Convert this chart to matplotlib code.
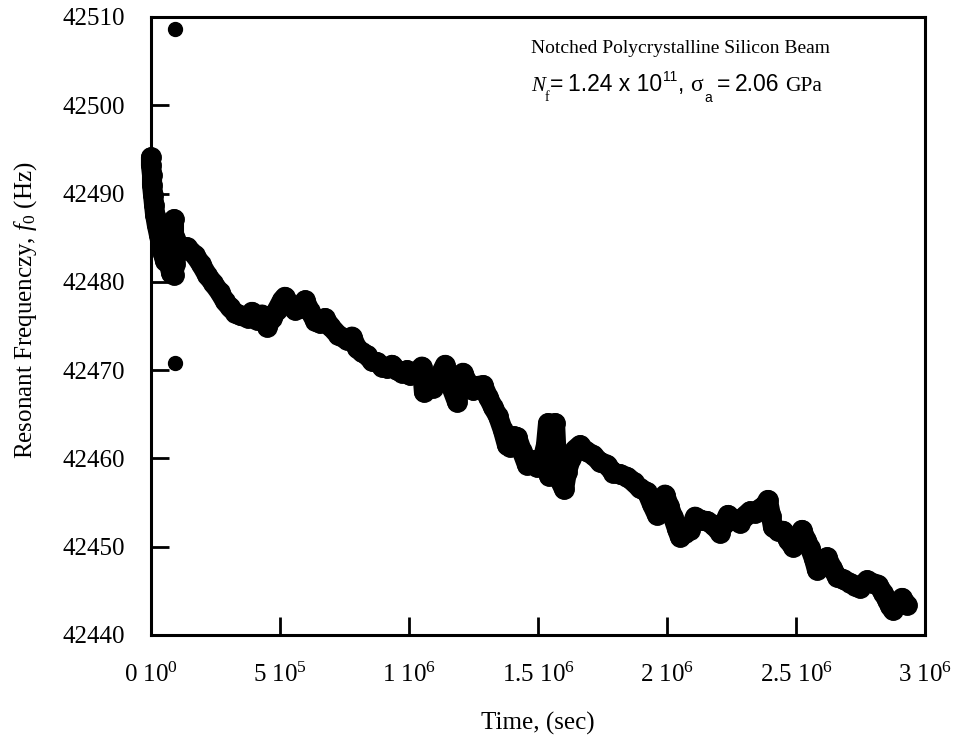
import matplotlib
matplotlib.use("Agg")
import matplotlib.pyplot as plt
import numpy as np

plt.rcParams['font.family'] = ['Liberation Serif', 'DejaVu Serif']
plt.rcParams['mathtext.fontset'] = 'custom'
plt.rcParams['mathtext.rm'] = 'Liberation Serif'
plt.rcParams['mathtext.it'] = 'Liberation Serif:italic'
plt.rcParams['mathtext.sf'] = 'Liberation Sans'

# ---- data (time in units of 1e6 s, frequency in Hz) ----
time_mega = [
    0.000, 0.000, 0.004, 0.004, 0.008, 0.012, 0.016, 0.023, 0.031, 0.039,
    0.047, 0.054, 0.062, 0.070, 0.078, 0.085, 0.089, 0.089, 0.093, 0.093,
    0.097, 0.105, 0.120,
    0.140, 0.171, 0.194, 0.217, 0.240, 0.267, 0.287, 0.306, 0.326, 0.345,
    0.376, 0.391, 0.411, 0.430, 0.450, 0.469, 0.488, 0.508, 0.519, 0.539,
    0.558, 0.578, 0.597, 0.616, 0.636, 0.655, 0.674, 0.694, 0.725, 0.760,
    0.779, 0.798, 0.818, 0.837, 0.857, 0.876, 0.895, 0.915, 0.934, 0.953,
    0.973, 0.992,
    1.004, 1.027, 1.050, 1.058, 1.074, 1.093, 1.116, 1.140, 1.159, 1.186,
    1.198, 1.209, 1.229, 1.248, 1.267, 1.287, 1.306, 1.326, 1.345, 1.364,
    1.380, 1.391, 1.407, 1.419, 1.438, 1.457, 1.477, 1.496, 1.515, 1.531,
    1.539, 1.543, 1.554, 1.566, 1.574, 1.585, 1.601, 1.612, 1.628, 1.643,
    1.663, 1.686, 1.713, 1.740, 1.767, 1.791, 1.818, 1.845, 1.872, 1.895,
    1.922, 1.942, 1.961, 1.977, 1.992, 2.008, 2.023, 2.039, 2.050, 2.070,
    2.089, 2.109, 2.132, 2.155, 2.178, 2.205, 2.221, 2.236, 2.260, 2.283,
    2.302, 2.322, 2.341, 2.360, 2.380, 2.391, 2.403, 2.411, 2.430, 2.450,
    2.469, 2.488, 2.508, 2.523, 2.539, 2.554, 2.570, 2.581, 2.601, 2.620,
    2.640, 2.659, 2.682, 2.709, 2.729, 2.748, 2.775, 2.795, 2.818, 2.837,
    2.853, 2.864, 2.876, 2.891, 2.911, 2.930,
]
freq_hz = [
    42494.1, 42493.2, 42492.1, 42491.0, 42489.8, 42488.7, 42487.6, 42486.4, 42485.3, 42484.2,
    42483.2, 42482.4, 42483.0, 42482.0, 42481.0, 42484.5, 42487.1, 42480.8, 42485.0, 42482.0,
    42483.0, 42483.8, 42484.0,
    42483.9, 42483.0, 42482.0, 42480.8, 42479.9, 42478.8, 42477.8, 42477.1, 42476.5, 42476.2,
    42475.9, 42476.6, 42475.7, 42476.3, 42474.9, 42475.9, 42476.8, 42477.9, 42478.3, 42477.4,
    42476.8, 42477.0, 42477.9, 42476.7, 42475.6, 42475.3, 42475.9, 42475.0, 42474.0, 42473.4,
    42473.8, 42472.5, 42472.0, 42471.7, 42471.0, 42470.9, 42470.4, 42470.2, 42470.6, 42470.0,
    42469.7, 42470.0,
    42469.4, 42469.6, 42470.4, 42467.5, 42468.8, 42468.0, 42469.2, 42470.6, 42468.5, 42466.4,
    42468.0, 42469.7, 42468.5, 42467.7, 42468.2, 42468.3, 42467.0, 42465.8, 42464.8, 42463.2,
    42461.5, 42461.3, 42462.5, 42462.4, 42460.8, 42459.3, 42459.8, 42459.0, 42459.5, 42461.5,
    42464.0, 42458.0, 42462.0, 42464.0, 42459.0, 42457.5, 42456.5, 42458.5, 42460.0, 42461.0,
    42461.5, 42460.8, 42460.4, 42459.6, 42459.3, 42458.4, 42458.2, 42457.9, 42457.3, 42456.6,
    42456.2, 42454.8, 42453.6, 42455.0, 42455.9, 42454.6, 42453.4, 42452.0, 42451.1, 42451.5,
    42451.9, 42453.4, 42453.0, 42452.9, 42452.5, 42451.6, 42452.6, 42453.6, 42453.0, 42452.7,
    42453.5, 42454.0, 42453.8, 42454.3, 42454.7, 42455.3, 42453.5, 42452.2, 42451.8, 42451.8,
    42450.8, 42450.0, 42451.0, 42451.9, 42450.8, 42449.9, 42448.6, 42447.4, 42448.0, 42448.8,
    42447.6, 42446.6, 42446.3, 42445.9, 42445.6, 42445.3, 42446.2, 42445.9, 42445.7, 42444.8,
    42444.0, 42443.3, 42442.8, 42443.4, 42444.2, 42443.4,
]
outlier_time_mega = [0.093, 0.093]
outlier_freq_hz = [42508.6, 42470.8]

x_ticks = [0, 5e5, 1e6, 1.5e6, 2e6, 2.5e6, 3e6]
x_tick_labels = [r"0 10$^{0}$", r"5 10$^{5}$", r"1 10$^{6}$", r"1.5 10$^{6}$",
                 r"2 10$^{6}$", r"2.5 10$^{6}$", r"3 10$^{6}$"]
y_ticks = [42440, 42450, 42460, 42470, 42480, 42490, 42500, 42510]

t = np.array(time_mega) * 1e6
ot = np.array(outlier_time_mega) * 1e6

W, H = 956, 742
fig = plt.figure(figsize=(W / 100, H / 100), dpi=100)
ax = fig.add_axes([151/W, 1 - 635/H, 774/W, 618/H])

ax.plot(t, freq_hz, '-o', color='black', ms=14, lw=14.5,
        solid_joinstyle='round', solid_capstyle='round', clip_on=False, zorder=3)
ax.plot(ot, outlier_freq_hz, 'o', color='black', ms=10, clip_on=False, zorder=3)

ax.set_xlim(0, 3e6)
ax.set_ylim(42440, 42510)
ax.set_xticks(x_ticks)
ax.set_xticklabels(x_tick_labels)
ax.set_yticks(y_ticks)
ax.set_yticklabels([str(v) for v in y_ticks])

for s in ax.spines.values():
    s.set_linewidth(2.2)
ax.tick_params(axis='both', direction='in', length=13, width=2, top=False, right=False,
               labelsize=18)
ax.tick_params(axis='y', pad=18.5)
ax.tick_params(axis='x', pad=20)

fig.text(538/W, 1 - 723/H, "Time, (sec)", ha='center', va='center', fontsize=18)
fig.text(26/W, 1 - 310/H, r"Resonant Frequenczy, $f_{0}$ (Hz)", ha='center', va='center',
         rotation=90, fontsize=18)

fig.text(531/W, 1 - 53/H, "Notched Polycrystalline Silicon Beam",
         ha='left', va='baseline', fontsize=14)

# second annotation line, built from pieces (serif / sans, sub- and superscripts)
SERIF = ['Liberation Serif', 'DejaVu Serif']
SANS = ['Liberation Sans', 'DejaVu Sans']
pieces = [
    # text, family, style, size, raise_px, gap_px
    ("N", SERIF, 'italic', 15, 0, 0),
    ("f", SERIF, 'normal', 10, -10, 0),
    ("=", SANS, 'normal', 16.5, 0, 0),
    ("1.24 x 10", SANS, 'normal', 16.5, 0, 5),
    ("11", SANS, 'normal', 10, 10, 1),
    (",", SANS, 'normal', 16.5, 0, 1),
    ("σ", SERIF, 'normal', 17, 0, 6),
    ("a", SANS, 'normal', 10, -11, 1),
    ("=", SANS, 'normal', 16.5, 0, 5),
    ("2.06", SANS, 'normal', 16.5, 0, 5),
    ("GPa", SERIF, 'normal', 15.5, 0, 5),
]
renderer = fig.canvas.get_renderer()
xpx = 531.0
base = 91.0
for txt, fam, sty, size, rise, gap in pieces:
    xpx += gap
    tt = fig.text(xpx / W, 1 - (base - rise) / H, txt, family=fam, style=sty,
                  fontsize=size, ha='left', va='baseline')
    bb = tt.get_window_extent(renderer)
    xpx = bb.x1

fig.savefig("out.png", dpi=100)
